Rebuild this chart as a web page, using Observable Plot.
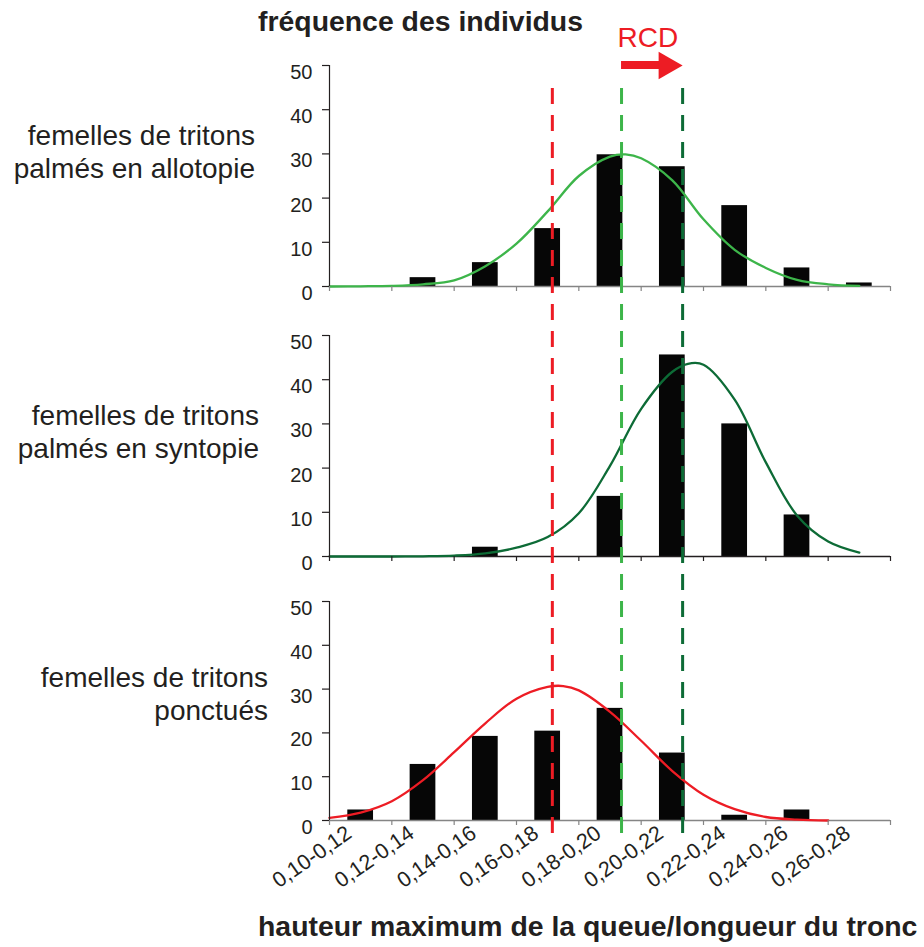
<!DOCTYPE html>
<html><head><meta charset="utf-8">
<script src="https://cdn.jsdelivr.net/npm/d3@7"></script>
<script src="https://cdn.jsdelivr.net/npm/@observablehq/plot@0.6"></script>
<style>
body{margin:0;background:#fff;}
#chart{position:relative;width:924px;height:947px;font-family:"Liberation Sans",Arial,sans-serif;color:#231f20;overflow:hidden;background:#fff}
.title{font-weight:bold;font-size:28.4px;line-height:28.4px;white-space:nowrap}
.lab{font-size:28px;line-height:33px;text-align:right;white-space:nowrap}
</style></head><body><div id="chart"></div>
<script>
// ---------- data ----------
const binLabels = ["0,10-0,12","0,12-0,14","0,14-0,16","0,16-0,18","0,18-0,20","0,20-0,22","0,22-0,24","0,24-0,26","0,26-0,28"];
const yTicks = [0, 10, 20, 30, 40, 50];

const panelNames = ["femelles de tritons\npalmés en allotopie", "femelles de tritons\npalmés en syntopie", "femelles de tritons\nponctués"];

// bar heights (fréquence des individus)
const allotopie = [0, 2.0, 5.4, 13.1, 29.8, 27.1, 18.3, 4.2, 0.8];
const syntopie  = [0, 0, 2.1, 0, 13.6, 45.6, 30.0, 9.4, 0];
const ponctues  = [2.4, 12.8, 19.2, 20.4, 25.6, 15.4, 1.2, 2.4, 0];

// fitted curves
const curveAllotopieX = [0.10,0.11,0.12,0.13,0.14,0.15,0.16,0.17,0.18,0.19,0.195,0.20,0.21,0.22,0.23,0.24,0.25,0.26,0.27];
const curveAllotopieY = [0.0,0.05,0.15,0.5,1.4,4.6,9.7,17.0,25.0,29.4,29.9,29.0,24.0,15.2,8.3,4.2,1.5,0.5,0.15];
const curveSyntopieX = [0.10,0.11,0.12,0.13,0.14,0.15,0.16,0.17,0.18,0.19,0.20,0.21,0.215,0.22,0.23,0.24,0.25,0.26,0.27];
const curveSyntopieY = [0.0,0.0,0.0,0.05,0.2,0.7,2.0,4.4,9.8,20.5,33.4,41.8,43.6,43.4,35.5,21.3,9.3,3.4,0.9];
const curvePonctuesX = [0.10,0.11,0.12,0.13,0.14,0.15,0.16,0.17,0.175,0.18,0.19,0.20,0.21,0.22,0.23,0.24,0.25,0.26];
const curvePonctuesY = [0.6,1.8,4.4,9.2,15.6,22.2,27.8,30.5,30.7,29.7,24.8,18.2,11.3,5.9,2.6,0.8,0.2,0.0];

// dashed reference lines (means)
const meanNames  = ["ponctués", "allotopie", "syntopie"];
const meanValues = [0.1715, 0.1937, 0.2133];

// RCD arrow: from allotopie mean to syntopie mean
const arrowLabel = "RCD";

// ---------- styles / layout ----------
const RED = "#ed1c24", LGREEN = "#3db54a", DGREEN = "#0d6b36";
const lineColors = {"ponctués": RED, "allotopie": LGREEN, "syntopie": DGREEN};
const W = 924, ML = 329, MR = 34;
const font = "'Liberation Sans', Arial, sans-serif";
const ink = "#231f20";
const blank = () => "";

const bins = binLabels.map(label => {
  const [lo, hi] = label.split("-").map(s => +s.replace(",", "."));
  return {label, lo, hi};
});
const boundaries = [...bins.map(b => b.lo), bins[bins.length - 1].hi];
const xDomain = [boundaries[0], boundaries[boundaries.length - 1]];

const panels = [
  {name: panelNames[0], bars: allotopie, cx: curveAllotopieX, cy: curveAllotopieY, color: LGREEN, top: 65, bottom: 286, axis: "#858585", labRight: 255, labTop: 119},
  {name: panelNames[1], bars: syntopie,  cx: curveSyntopieX,  cy: curveSyntopieY,  color: DGREEN, top: 335, bottom: 556, axis: ink, labRight: 259, labTop: 399},
  {name: panelNames[2], bars: ponctues,  cx: curvePonctuesX,  cy: curvePonctuesY,  color: RED,    top: 601, bottom: 820, axis: "#858585", labRight: 268, labTop: 661, xlabels: true}
];

const chart = document.getElementById("chart");
function place(node, left, top) {
  node.style.position = "absolute";
  node.style.left = left + "px";
  node.style.top = top + "px";
  chart.appendChild(node);
}
const baseStyle = {fontFamily: font, fontSize: "20px", color: ink, background: "transparent", overflow: "visible"};

panels.forEach(p => {
  const rows = bins.map((b, i) => ({...b, n: p.bars[i]})).filter(d => d.n > 0);
  const curve = p.cx.map((x, i) => ({x, y: p.cy[i]}));
  const mt = 10, mb = p.xlabels ? 110 : 10;
  const marks = [
    Plot.rectY(rows, {x1: "lo", x2: "hi", y: "n", fill: "#060606", insetLeft: 18.3, insetRight: 18.3}),
    Plot.ruleY([0], {stroke: p.axis, strokeWidth: 1.5}),
    Plot.line(curve, {x: "x", y: "y", stroke: p.color, strokeWidth: 2.3, curve: "catmull-rom"}),
    Plot.ruleX([xDomain[0]], {stroke: ink, strokeWidth: 1.2}),
    Plot.axisX({ticks: boundaries, tickSize: 5, tickPadding: 0, fontSize: 1, fill: "none", tickFormat: blank, stroke: p.axis, strokeWidth: 1.2, label: null}),
    Plot.axisY({ticks: yTicks, tickSize: 7, tickPadding: 10, fontSize: 20, fill: "none", tickFormat: blank, stroke: ink, strokeWidth: 1.2, label: null}),
    Plot.text(yTicks, {y: d => d, text: d => String(d), frameAnchor: "left", textAnchor: "end", dx: -17, dy: 7, fontSize: 20, fill: ink})
  ];
  if (p.xlabels) {
    marks.push(Plot.text(bins, {x: d => (d.lo + d.hi) / 2, text: "label", frameAnchor: "bottom",
      rotate: -35, textAnchor: "end", dx: -7.5, dy: 16, fontSize: 21.5, fill: ink}));
  }
  const svg = Plot.plot({
    width: W, height: mt + (p.bottom - p.top) + mb,
    marginLeft: ML, marginRight: MR, marginTop: mt, marginBottom: mb,
    x: {domain: xDomain, axis: null},
    y: {domain: [0, 50], axis: null},
    style: baseStyle,
    marks
  });
  place(svg, 0, p.top - mt);

  const lab = document.createElement("div");
  lab.className = "lab";
  lab.style.width = p.labRight + "px";
  lab.innerHTML = p.name.split("\n").join("<br>");
  place(lab, 0, p.labTop);
});

// dashed mean lines across all panels
const means = meanNames.map((name, i) => ({name, value: meanValues[i]}));
const overlay = Plot.plot({
  width: W, height: 947, marginLeft: ML, marginRight: MR, marginTop: 88, marginBottom: 947 - 836,
  x: {domain: xDomain, axis: null},
  style: baseStyle,
  marks: [
    Plot.ruleX(means, {x: "value", stroke: d => lineColors[d.name], strokeWidth: 3, strokeDasharray: "16,11"})
  ]
});
overlay.style.pointerEvents = "none";
place(overlay, 0, 0);

// RCD arrow
const arrow = [{from: meanValues[1], to: meanValues[2], label: arrowLabel}];
const arrowPlot = Plot.plot({
  width: W, height: 48, marginLeft: ML, marginRight: MR, marginTop: 20, marginBottom: 20,
  x: {domain: xDomain, axis: null},
  style: baseStyle,
  marks: [
    Plot.rect(arrow, {x1: "from", x2: "to", fill: RED, insetRight: 20}),
    Plot.dot(arrow, {x: "to", frameAnchor: "middle", symbol: "triangle", r: 10.3, rotate: 90, fill: RED, stroke: "none", dx: -16}),
    Plot.text(arrow, {x: "from", text: "label", frameAnchor: "middle", textAnchor: "start", dx: -4, dy: -27, fontSize: 28, fill: RED})
  ]
});
place(arrowPlot, 0, 61 - 20);

// titles
const t1 = document.createElement("div");
t1.className = "title"; t1.textContent = "fréquence des individus";
place(t1, 258, 7);
const t2 = document.createElement("div");
t2.className = "title"; t2.textContent = "hauteur maximum de la queue/longueur du tronc";
place(t2, 258, 912);
</script>
</body></html>
